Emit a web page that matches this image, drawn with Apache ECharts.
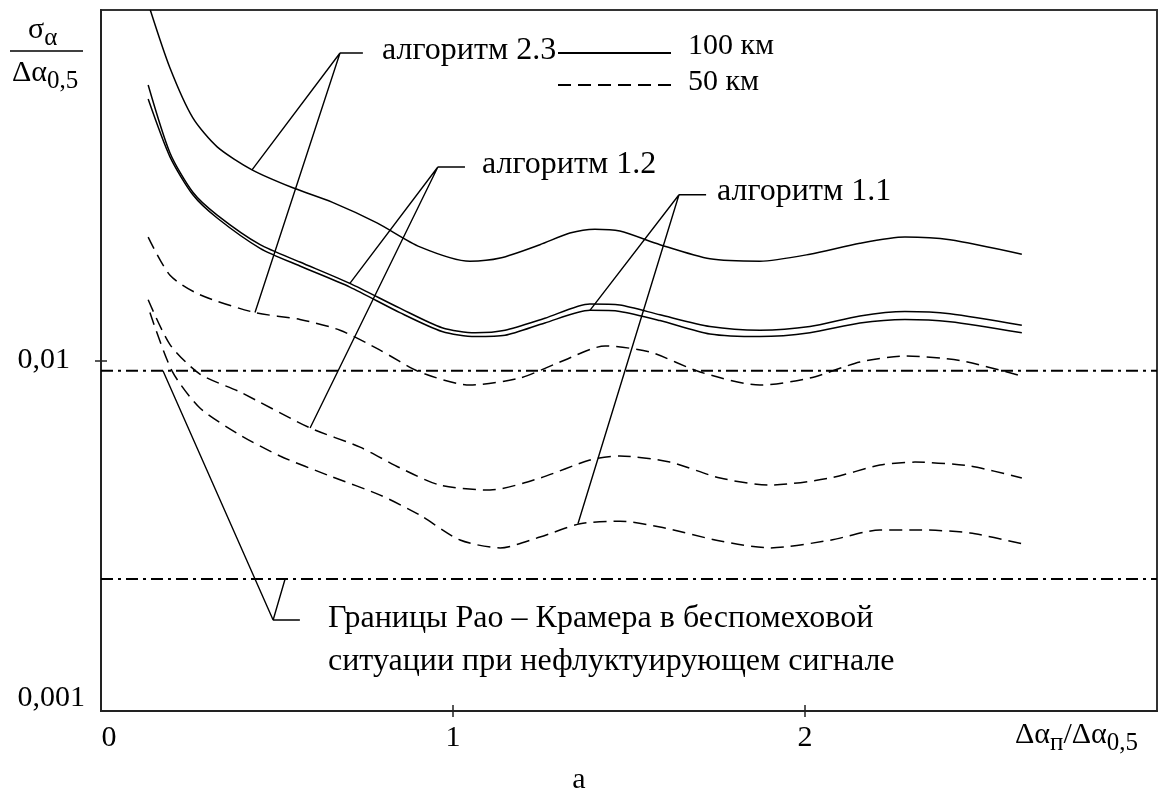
<!DOCTYPE html>
<html>
<head>
<meta charset="utf-8">
<script src="https://cdn.jsdelivr.net/npm/echarts@6/dist/echarts.min.js"></script>
<style>html,body{margin:0;background:#fff}#chart{width:1158px;height:792px}</style>
</head>
<body>
<div id="chart"></div>
<script>
var FONT = '"Liberation Serif", "Times New Roman", serif';

// оси
var xTickValues = [1, 2];
var xLabelValues = [0, 1, 2];
var yTickValues = [0.01];
var yLabelValues = [0.001, 0.01];

// 100 км (сплошные)
var alg23_100 = [[0.14,0.1],[0.196,0.0683],[0.261,0.0492],[0.330,0.0407],[0.429,0.035],[0.545,0.0311],[0.656,0.0283],[0.784,0.0247],[0.906,0.0211],[1.048,0.0192],[1.134,0.0196],[1.247,0.0214],[1.332,0.0231],[1.403,0.0237],[1.474,0.0234],[1.588,0.0214],[1.730,0.0195],[1.872,0.0192],[2.014,0.0201],[2.156,0.0216],[2.284,0.0225],[2.412,0.0221],[2.616,0.0201]];
var alg12_100 = [[0.134,0.0611],[0.196,0.0391],[0.261,0.0302],[0.330,0.0260],[0.452,0.0214],[0.565,0.0191],[0.707,0.0166],[0.849,0.0141],[0.969,0.0124],[1.063,0.0120],[1.148,0.0122],[1.261,0.0132],[1.389,0.0145],[1.474,0.0144],[1.588,0.0135],[1.730,0.0125],[1.872,0.0122],[2.014,0.0125],[2.156,0.0134],[2.284,0.0138],[2.412,0.0136],[2.616,0.0126]];
var alg11_100 = [[0.134,0.0557],[0.196,0.0381],[0.261,0.0297],[0.330,0.0255],[0.452,0.0209],[0.565,0.0186],[0.707,0.0162],[0.849,0.0137],[0.969,0.0121],[1.063,0.0117],[1.148,0.0118],[1.261,0.0128],[1.389,0.0139],[1.474,0.0138],[1.588,0.0130],[1.730,0.0119],[1.872,0.0117],[2.014,0.0120],[2.156,0.0128],[2.284,0.0131],[2.412,0.0129],[2.616,0.0120]];

// 50 км (штриховые)
var alg23_50 = [[0.134,0.0225],[0.196,0.0175],[0.281,0.0154],[0.4375,0.0137],[0.565,0.0131],[0.679,0.0122],[0.793,0.0107],[0.906,0.00927],[1.048,0.00851],[1.19,0.00891],[1.304,0.0099],[1.432,0.0110],[1.56,0.01057],[1.702,0.00927],[1.872,0.00851],[2.014,0.00891],[2.156,0.0099],[2.284,0.0103],[2.44,0.0100],[2.616,0.00903]];
var alg12_50 = [[0.134,0.0149],[0.196,0.0111],[0.281,0.00915],[0.395,0.00813],[0.594,0.00642],[0.736,0.00566],[0.849,0.00494],[0.963,0.00441],[1.105,0.00427],[1.247,0.00462],[1.389,0.0052],[1.474,0.00534],[1.616,0.00513],[1.759,0.00462],[1.901,0.00441],[2.071,0.00462],[2.213,0.00503],[2.3125,0.00513],[2.469,0.0050],[2.616,0.00462]];
var alg11_50 = [[0.139,0.0137],[0.202,0.00933],[0.281,0.00732],[0.395,0.00613],[0.5085,0.00534],[0.651,0.00468],[0.793,0.00413],[0.906,0.00362],[1.02,0.003075],[1.134,0.00292],[1.247,0.003135],[1.361,0.00342],[1.474,0.00348],[1.588,0.00335],[1.759,0.003055],[1.901,0.00292],[2.071,0.00307],[2.213,0.003285],[2.327,0.003285],[2.469,0.00322],[2.616,0.0030]];

// границы Рао - Крамера
var raoBounds = [0.00935, 0.00238];

// выноски (в единицах осей)
var leaders = [
  [[0.429,0.035],[0.679,0.0754],[0.4375,0.0137]],
  [[0.679,0.0754],[0.744,0.0754]],
  [[0.707,0.0166],[0.957,0.03565],[0.594,0.00642]],
  [[0.957,0.03565],[1.034,0.03565]],
  [[1.389,0.0139],[1.642,0.0297],[1.355,0.00342]],
  [[1.642,0.0297],[1.719,0.0297]],
  [[0.176,0.00935],[0.489,0.001818],[0.523,0.00238]],
  [[0.489,0.001818],[0.565,0.001818]]
];

function curve(name, data, dashed) {
  return {
    type: 'line', name: name, data: data, symbol: 'none', smooth: 0.25,
    color: '#000', silent: true, z: 3,
    lineStyle: {color: '#000', width: 1.5, type: dashed ? [13, 7] : 'solid'}
  };
}

var series = [
  curve('100 км', alg23_100, false),
  curve('100 км', alg12_100, false),
  curve('100 км', alg11_100, false),
  curve('50 км', alg23_50, true),
  curve('50 км', alg12_50, true),
  curve('50 км', alg11_50, true)
];
raoBounds.forEach(function (v) {
  series.push({
    type: 'line', data: [[0, v], [3, v]], symbol: 'none', silent: true,
    lineStyle: {color: '#000', width: 2, type: [12, 5, 3, 5]}
  });
});
leaders.forEach(function (seg) {
  series.push({
    type: 'line', data: seg, symbol: 'none', silent: true,
    lineStyle: {color: '#000', width: 1.4}
  });
});

function txt(x, y, s, size, extra) {
  return {
    type: 'text', x: x, y: y, silent: true,
    style: Object.assign({text: s, fill: '#000', font: size + 'px ' + FONT, fontSize: size, fontFamily: FONT,
      verticalAlign: 'middle', textVerticalAlign: 'middle'}, extra || {})
  };
}
var richSub = {
  m: {fontSize: 30, fontFamily: FONT, fill: '#000', color: '#000', lineHeight: 34},
  s: {fontSize: 25, fontFamily: FONT, fill: '#000', color: '#000', lineHeight: 28, padding: [16, 0, 0, 0]}
};

// легенда: текст чуть выше линии
function legendBlock(name, top, lift) {
  return {
    orient: 'vertical', left: 557, top: top, padding: 0,
    itemWidth: 113, itemHeight: 14, selectedMode: false,
    itemStyle: {opacity: 0, borderWidth: 0},
    data: [name],
    formatter: '{t|{name}}',
    textStyle: {
      fontSize: 30, fontFamily: FONT, color: '#000',
      rich: {t: {fontSize: 30, fontFamily: FONT, color: '#000', lineHeight: 30, padding: [0, 0, lift * 2, 12]}}
    }
  };
}

var chart = echarts.init(document.getElementById('chart'));
chart.setOption({
  animation: false,
  backgroundColor: '#fff',
  grid: {left: 101, right: 1, top: 10, bottom: 81, show: true, borderColor: '#333', borderWidth: 2},
  legend: [legendBlock('100 км', 31, 7), legendBlock('50 км', 67, 3)],
  xAxis: [{
    type: 'value', min: 0, max: 3, interval: 1,
    axisLine: {lineStyle: {color: '#222', width: 2}},
    axisTick: {show: true, length: 6, customValues: xTickValues, lineStyle: {color: '#222', width: 1.5}},
    axisLabel: {
      margin: 12, fontSize: 30, fontFamily: FONT, color: '#000', customValues: xLabelValues,
      formatter: function (v) { return v === 0 ? '{z|0}' : String(v); },
      rich: {z: {fontSize: 30, fontFamily: FONT, color: '#000', padding: [0, 0, 0, 16]}}
    },
    splitLine: {show: false}
  }, {
    type: 'value', min: 0, max: 3, interval: 1, position: 'bottom',
    axisLine: {show: false},
    axisTick: {show: true, inside: true, length: 6, customValues: xTickValues, lineStyle: {color: '#222', width: 1.5}},
    axisLabel: {show: false}, splitLine: {show: false}
  }],
  yAxis: [{
    type: 'log', logBase: 10, min: 0.001, max: 0.1,
    axisLine: {show: true, lineStyle: {color: '#222', width: 2}},
    axisTick: {show: true, length: 6, customValues: yTickValues, lineStyle: {color: '#222', width: 1.5}},
    axisLabel: {
      margin: 16, fontSize: 30, fontFamily: FONT, color: '#000', customValues: yLabelValues,
      formatter: function (v) { return v < 0.005 ? '{b|0,001}' : '{a|0,01}'; },
      rich: {
        a: {fontSize: 30, fontFamily: FONT, color: '#000', padding: [0, 15, 0, 0]},
        b: {fontSize: 30, fontFamily: FONT, color: '#000', padding: [0, 0, 26, 0]}
      }
    },
    splitLine: {show: false}
  }, {
    type: 'log', logBase: 10, min: 0.001, max: 0.1, position: 'left',
    axisLine: {show: false},
    axisTick: {show: true, inside: true, length: 6, customValues: yTickValues, lineStyle: {color: '#222', width: 1.5}},
    axisLabel: {show: false}, splitLine: {show: false}
  }],
  series: series,
  graphic: [
    txt(382, 51, 'алгоритм 2.3', 32),
    txt(482, 165, 'алгоритм 1.2', 32),
    txt(717, 192, 'алгоритм 1.1', 32),
    txt(328, 619, 'Границы Рао – Крамера в беспомеховой', 32),
    txt(328, 662, 'ситуации при нефлуктуирующем сигнале', 32),
    txt(579, 780, 'а', 30, {align: 'center', textAlign: 'center'}),
    txt(28, 30, '{m|σ}{s|α}', 30, {rich: richSub}),
    {type: 'line', silent: true, shape: {x1: 10, y1: 51, x2: 83, y2: 51}, style: {stroke: '#000', lineWidth: 1.5}},
    txt(12, 73, '{m|Δα}{s|0,5}', 30, {rich: richSub}),
    txt(1015, 735, '{m|Δα}{s|п}{m|/Δα}{s|0,5}', 30, {rich: richSub})
  ]
});
</script>
</body>
</html>
